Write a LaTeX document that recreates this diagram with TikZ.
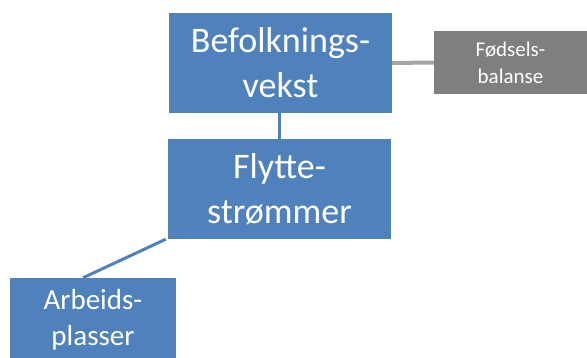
\documentclass[tikz,border=0pt]{standalone}
\usepackage{fontspec}
\setmainfont{Carlito}
\definecolor{boxblue}{HTML}{4F81BD}
\definecolor{boxgray}{HTML}{7F7F7F}
\definecolor{linegray}{HTML}{A5A5A5}
\tikzset{
  bluebox/.style={rectangle, fill=boxblue, text=white, align=center, inner sep=0pt},
  graybox/.style={rectangle, fill=boxgray, text=white, align=center, inner sep=0pt},
  blueline/.style={draw=boxblue, line width=3pt},
  grayline/.style={draw=linegray, line width=4pt}
}
\begin{document}
\begin{tikzpicture}[x=1pt,y=-1pt]
\useasboundingbox (0,0) rectangle (587,358);
\clip (0,0) rectangle (587,358);
\fill[white] (0,0) rectangle (587,358);
\node[bluebox, minimum width=223pt, minimum height=100pt, font=\fontsize{36}{45}\selectfont] (bef) at (280.5,63) {Befolknings-\\vekst};
\node[bluebox, minimum width=223pt, minimum height=100pt, font=\fontsize{36}{45}\selectfont] (fly) at (279.5,189) {Flytte-\\strømmer};
\node[graybox, minimum width=153pt, minimum height=63pt, font=\fontsize{21}{27}\selectfont] (fod) at (510.5,62.5) {Fødsels-\\balanse};
\node[bluebox, minimum width=166pt, minimum height=84pt, font=\fontsize{29}{36}\selectfont] (arb) at (93,320) {Arbeids-\\plasser};
\draw[blueline] (bef.south -| 279,0) -- (fly.north -| 279,0);
\draw[grayline] (bef.east) -- (fod.west);
\draw[blueline] ([xshift=-2pt]fly.south west) -- ([xshift=-10pt]arb.north);
\end{tikzpicture}
\end{document}
